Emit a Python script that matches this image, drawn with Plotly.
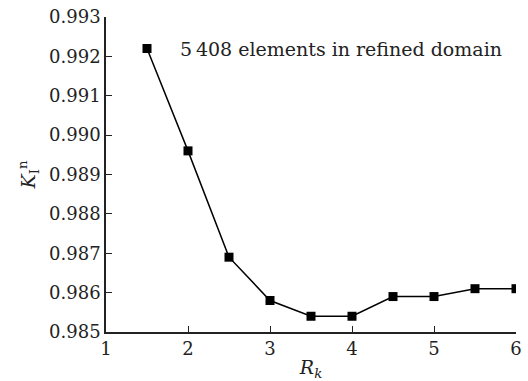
import plotly.graph_objects as go

rk = [1.5, 2.0, 2.5, 3.0, 3.5, 4.0, 4.5, 5.0, 5.5, 6.0]
kin = [0.9922, 0.9896, 0.9869, 0.9858, 0.9854, 0.9854, 0.9859, 0.9859, 0.9861, 0.9861]
xticks = [1, 2, 3, 4, 5, 6]
yticks = [0.985, 0.986, 0.987, 0.988, 0.989, 0.990, 0.991, 0.992, 0.993]

font = "'DejaVu Serif', serif"
fig = go.Figure()
fig.add_trace(go.Scatter(
    x=rk, y=kin, mode="lines+markers",
    line=dict(color="black", width=1.5),
    marker=dict(symbol="square", size=9, color="black"),
    showlegend=False,
))
fig.add_annotation(
    x=1.88, y=0.9922, xref="x", yref="y", xanchor="left", yanchor="middle",
    text="5\u2009408 elements in refined domain", showarrow=False,
    font=dict(family=font, size=19, color="#222"),
)
fig.update_layout(
    width=528, height=381,
    margin=dict(l=106, r=6, t=17, b=49),
    plot_bgcolor="white", paper_bgcolor="white",
    font=dict(family=font, size=18, color="#222"),
    xaxis=dict(
        range=[1, 6], tickvals=xticks, ticktext=[str(v) for v in xticks],
        ticks="inside", ticklen=6, tickcolor="#222", showgrid=False, zeroline=False,
        showline=True, linecolor="#222", linewidth=1.5,
        tickfont=dict(family=font, size=18), ticklabeloverflow="allow",
        title=dict(text="<i>R<sub>k</sub></i>", standoff=2, font=dict(family=font, size=19)),
    ),
    yaxis=dict(
        range=[0.985, 0.993], tickvals=yticks, ticktext=[f"{v:.3f}" for v in yticks],
        ticks="inside", ticklen=6, tickcolor="#222", showgrid=False, zeroline=False,
        showline=True, linecolor="#222", linewidth=1.5,
        tickfont=dict(family=font, size=18),
        title=dict(text="<i>K</i><sub>I</sub><sup>n</sup>", standoff=8, font=dict(family=font, size=19)),
    ),
)
fig.write_html("out.html")
